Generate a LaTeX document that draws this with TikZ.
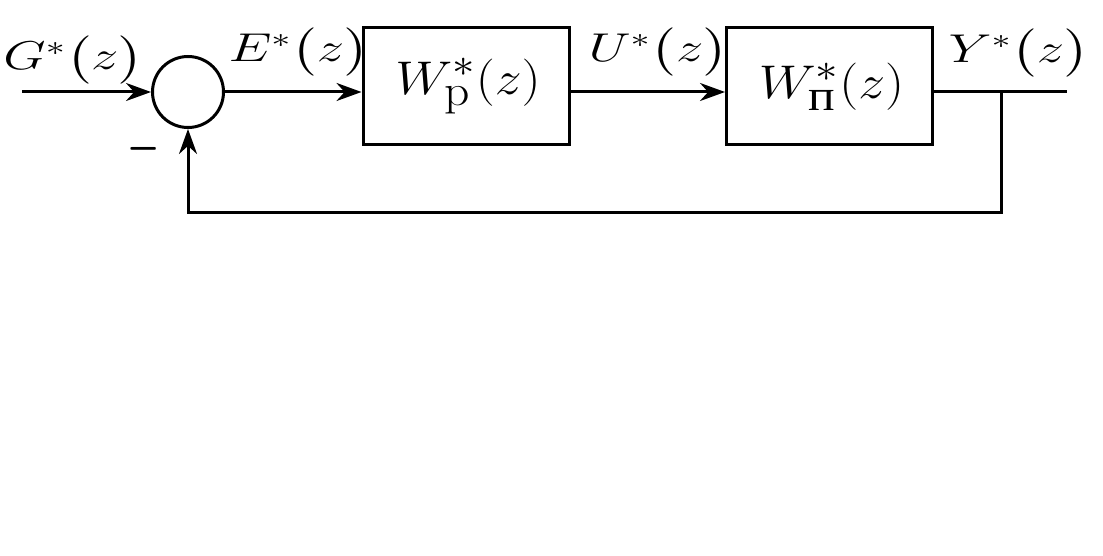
\documentclass[tikz,border=0pt]{standalone}
\usepackage{amsmath}
\usepackage{graphicx}
\usepackage{fontspec}
\newfontfamily\cyrfont{Liberation Serif}
\usetikzlibrary{arrows.meta}
\newcommand{\lbltext}[1]{\scalebox{1.32}[0.97]{\fontsize{20.74}{24}\selectfont$#1^{*}\big(z\big)$}}
\newcommand{\blktext}[1]{\hspace*{2pt}\scalebox{1.08}[0.95]{\fontsize{24.88}{28}\selectfont$W^{*}_{\hbox{\fontsize{23}{26}\selectfont #1}}(z)$}}
\newcommand{\minustext}{\scalebox{1}[1.7]{\fontsize{20.74}{24}\selectfont$-$}}
\begin{document}
\begin{tikzpicture}[x=0.5pt,y=-0.5pt,line width=1.5pt,
  >={Stealth[length=12.5pt,width=9pt]},
  lbl/.style={anchor=base west,inner sep=0pt},
  blk/.style={draw,inner sep=0pt,minimum width=103pt,minimum height=58.5pt},
  summ/.style={draw,circle,inner sep=0pt,minimum size=35.5pt}]
\useasboundingbox (0,0) rectangle (1103,556);
\node[summ] (sum) at (188,92) {};
\node[blk] (b1) at (466,86.5) {\blktext{p}};
\node[blk] (b2) at (829.5,86.5) {\blktext{\cyrfont п}};
\coordinate (in) at (22,92);
\coordinate (out) at (1067,92);
\coordinate (fb) at (1001,92);
\draw[->] (in) -- (sum.west);
\draw[->] (sum.east) -- (sum.east -| b1.west);
\draw[->] (b1.east |- sum.east) -- (b2.west |- sum.east);
\draw (b2.east |- sum.east) -- (out);
\draw[->] (fb) -- (fb |- 0,212) -| (sum.south);
\node[lbl] (lg) at (2,70) {\lbltext{G}};
\node[lbl] (le) at (227,62) {\lbltext{E}};
\node[lbl] (lu) at (587,62) {\lbltext{U}};
\node[lbl] (ly) at (947,63) {\lbltext{Y}};
\node[anchor=base,inner sep=0pt] (minus) at (144,167) {\minustext};
\end{tikzpicture}
\end{document}
